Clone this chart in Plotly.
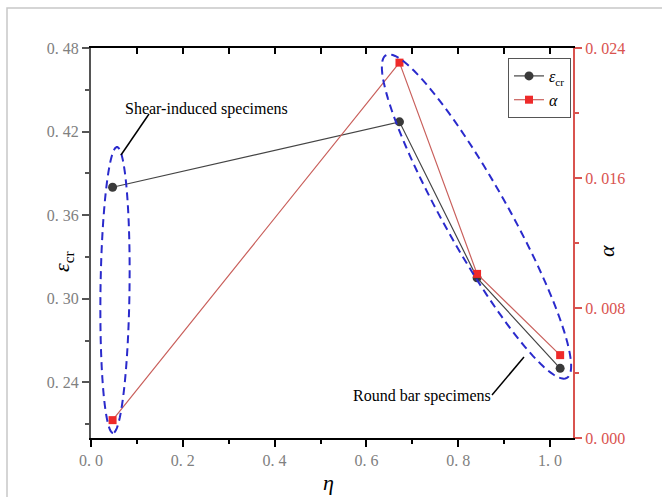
import numpy as np
import plotly.graph_objects as go

# ---- data ----
eta = [0.047, 0.672, 0.841, 1.022]
eps_cr = [0.380, 0.427, 0.315, 0.250]
alpha = [0.0011, 0.0231, 0.0101, 0.0051]

x_ticks = [0.0, 0.2, 0.4, 0.6, 0.8, 1.0]
x_ticktext = ["0. 0", "0. 2", "0. 4", "0. 6", "0. 8", "1. 0"]
y_ticks = [0.24, 0.30, 0.36, 0.42, 0.48]
y_ticktext = ["0. 24", "0. 30", "0. 36", "0. 42", "0. 48"]
y2_ticks = [0.0, 0.008, 0.016, 0.024]
y2_ticktext = ["0. 000", "0. 008", "0. 016", "0. 024"]

X_RANGE = [0, 1.05]
Y_RANGE = [0.20, 0.48]
Y2_RANGE = [0, 0.024]

W, H = 662, 497
ML, MR, MT, MB = 91, 89, 48, 59
PW, PH = W - ML - MR, H - MT - MB

def px2x(px):
    return (px - ML) / PW * (X_RANGE[1] - X_RANGE[0]) + X_RANGE[0]

def py2y(py):
    return Y_RANGE[1] - (py - MT) / PH * (Y_RANGE[1] - Y_RANGE[0])

def ellipse_path(cx, cy, a, b, ux, uy, n=120):
    norm = np.hypot(ux, uy)
    ux, uy = ux / norm, uy / norm
    vx, vy = -uy, ux
    t = np.linspace(0, 2 * np.pi, n)
    px = cx + a * np.cos(t) * ux + b * np.sin(t) * vx
    py = cy + a * np.cos(t) * uy + b * np.sin(t) * vy
    pts = [f"{px2x(X):.5f},{py2y(Y):.5f}" for X, Y in zip(px, py)]
    return "M" + " L".join(pts) + " Z"

RED_AX = "#d9534f"
RED_LINE = "#c9605c"
RED_MK = "#ee2a2a"
GRAY_MK = "#3a3a3a"
FONT = "Liberation Serif"

fig = go.Figure()
fig.add_trace(go.Scatter(
    x=eta, y=eps_cr, mode="lines+markers", name="<i>ε</i><sub>cr</sub>",
    line=dict(color="#444444", width=1.2),
    marker=dict(symbol="circle", size=9, color=GRAY_MK),
    yaxis="y"))
fig.add_trace(go.Scatter(
    x=eta, y=alpha, mode="lines+markers", name="<i>α</i>",
    line=dict(color=RED_LINE, width=1.2),
    marker=dict(symbol="square", size=8, color=RED_MK),
    yaxis="y2"))
# invisible trace to carry the top axis
fig.add_trace(go.Scatter(x=[0.5], y=[0.3], xaxis="x2", yaxis="y", mode="markers",
                         marker=dict(opacity=0), showlegend=False, hoverinfo="skip"))

shapes = []
# ellipses
shapes.append(dict(type="path", xref="x", yref="y",
                   path=ellipse_path(115, 290, 143, 14.5, -4, 286),
                   line=dict(color="#2a2acc", width=2, dash="8px,5px")))
shapes.append(dict(type="path", xref="x", yref="y",
                   path=ellipse_path(476.5, 216.5, 185, 32, 181, 323),
                   line=dict(color="#2a2acc", width=2, dash="8px,5px")))
# leader lines
shapes.append(dict(type="line", xref="x", yref="y",
                   x0=px2x(149), y0=py2y(114), x1=px2x(121), y1=py2y(155),
                   line=dict(color="black", width=1.5)))
shapes.append(dict(type="line", xref="x", yref="y",
                   x0=px2x(492), y0=py2y(395), x1=px2x(524), y1=py2y(357),
                   line=dict(color="black", width=1.5)))
# outer light frame
shapes.append(dict(type="rect", xref="paper", yref="paper",
                   x0=(7 - ML) / PW, x1=(670 - ML) / PW,
                   y0=(MT + PH - 510) / PH, y1=(MT + PH - 8) / PH,
                   line=dict(color="#c8c8c8", width=1.5), layer="below"))

def ann(text, px, py, size=16, angle=0, ref="data"):
    if ref == "data":
        x, y, xr, yr = px2x(px), py2y(py), "x", "y"
    else:
        x, y, xr, yr = (px - ML) / PW, (MT + PH - py) / PH, "paper", "paper"
    return dict(text=text, x=x, y=y, xref=xr, yref=yr, xanchor="center", yanchor="middle",
                textangle=angle, showarrow=False,
                font=dict(family=FONT, size=size, color="black"))

annotations = [
    ann("Shear-induced specimens", 206, 109),
    ann("Round bar specimens", 422, 396),
    ann("<i>η</i>", 328, 482, size=22, ref="paper"),
    ann("<i>ε</i><sub>cr</sub>", 63, 262, size=22, angle=-90, ref="paper"),
    ann("<i>α</i>", 607, 251, size=22, angle=-90, ref="paper"),
]

fig.update_layout(
    width=W, height=H,
    margin=dict(l=ML, r=MR, t=MT, b=MB, pad=0),
    paper_bgcolor="white", plot_bgcolor="white",
    showlegend=True,
    legend=dict(x=(508 - ML) / PW, y=(MT + PH - 58) / PH, xanchor="left", yanchor="top",
                bordercolor="#555555", borderwidth=1, bgcolor="white",
                font=dict(family=FONT, size=16, color="black"),
                itemwidth=30, tracegroupgap=0),
    xaxis=dict(range=X_RANGE, tickvals=x_ticks, ticktext=x_ticktext,
               showgrid=False, zeroline=False, showline=True, linecolor="black", linewidth=2,
               ticks="outside", ticklen=7, tickwidth=1.5, tickcolor="black",
               minor=dict(dtick=0.1, ticks="outside", ticklen=4, tickwidth=1.5, tickcolor="black"),
               tickfont=dict(family=FONT, size=16, color="#808080")),
    xaxis2=dict(range=X_RANGE, overlaying="x", side="top", dtick=0.1, tick0=0,
                showticklabels=False, showgrid=False, zeroline=False,
                showline=True, linecolor="black", linewidth=2,
                ticks="inside", ticklen=6, tickwidth=1.5, tickcolor="black"),
    yaxis=dict(range=Y_RANGE, tickvals=y_ticks, ticktext=y_ticktext,
               showgrid=False, zeroline=False, showline=True, linecolor="#555555", linewidth=2,
               ticks="outside", ticklen=7, tickwidth=1.5, tickcolor="#555555",
               minor=dict(dtick=0.03, tick0=0.21, ticks="outside", ticklen=4, tickwidth=1.5,
                          tickcolor="#555555"),
               tickfont=dict(family=FONT, size=16, color="#808080")),
    yaxis2=dict(range=Y2_RANGE, overlaying="y", side="right", tickvals=y2_ticks,
                ticktext=y2_ticktext, showgrid=False, zeroline=False,
                showline=True, linecolor=RED_AX, linewidth=2,
                ticks="outside", ticklen=7, tickwidth=1.5, tickcolor=RED_AX,
                minor=dict(dtick=0.004, ticks="outside", ticklen=4, tickwidth=1.5,
                           tickcolor=RED_AX),
                tickfont=dict(family=FONT, size=16, color=RED_AX)),
    shapes=shapes, annotations=annotations,
)

fig.write_html("out.html")
